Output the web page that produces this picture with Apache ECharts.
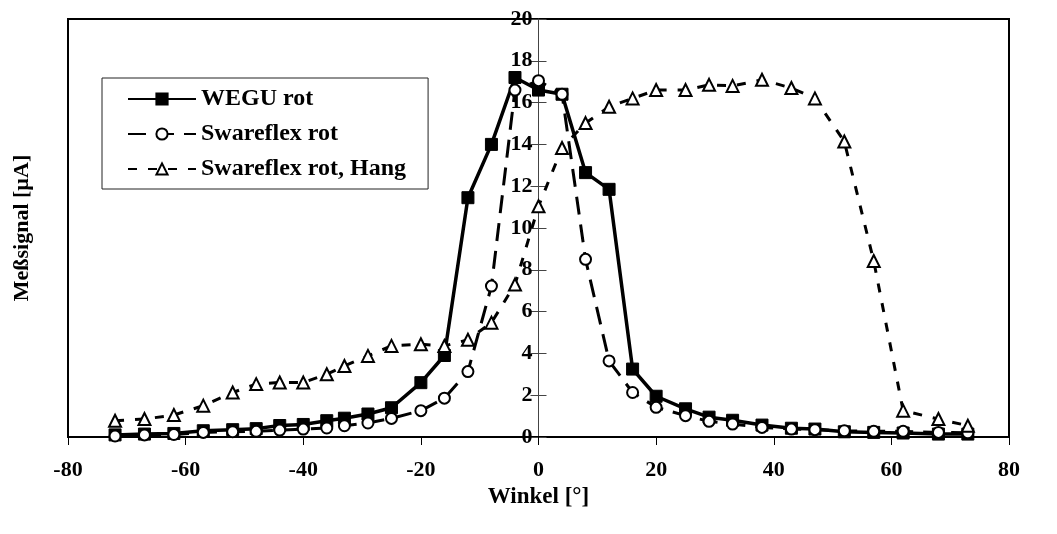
<!DOCTYPE html>
<html>
<head>
<meta charset="utf-8">
<script src="https://cdn.jsdelivr.net/npm/echarts@6/dist/echarts.min.js"></script>
<style>
  html, body { margin: 0; padding: 0; background: #fff; }
  #chart { width: 1057px; height: 534px; }
</style>
</head>
<body>
<div id="chart"></div>
<script>
// Angles [°]
const angles = [-72, -67, -62, -57, -52, -48, -44, -40, -36, -33, -29, -25, -20, -16, -12, -8, -4,
                0, 4, 8, 12, 16, 20, 25, 29, 33, 38, 43, 47, 52, 57, 62, 68, 73];
// Meßsignal [µA]
const weguRot = [0.1, 0.14, 0.17, 0.3, 0.35, 0.4, 0.55, 0.6, 0.78, 0.9, 1.1, 1.4, 2.6, 3.9, 11.45, 14.0, 17.2,
                 16.6, 16.4, 12.65, 11.85, 3.25, 1.95, 1.35, 0.95, 0.8, 0.57, 0.42, 0.38, 0.25, 0.22, 0.19, 0.14, 0.14];
const swareflexRot = [0.05, 0.1, 0.12, 0.22, 0.25, 0.27, 0.33, 0.38, 0.43, 0.54, 0.67, 0.89, 1.26, 1.86, 3.13, 7.22, 16.6,
                      17.05, 16.4, 8.5, 3.64, 2.13, 1.42, 1.02, 0.75, 0.62, 0.46, 0.38, 0.35, 0.3, 0.27, 0.27, 0.22, 0.2];
const swareflexHang = [0.78, 0.86, 1.05, 1.5, 2.13, 2.53, 2.61, 2.61, 3.0, 3.4, 3.88, 4.36, 4.44, 4.36, 4.65, 5.47, 7.3,
                       11.04, 13.83, 15.02, 15.8, 16.2, 16.6, 16.6, 16.85, 16.8, 17.09, 16.7, 16.2, 14.14, 8.42, 1.26, 0.86, 0.54];
const seriesNames = ['WEGU rot', 'Swareflex rot', 'Swareflex rot, Hang'];
const xTitle = 'Winkel [°]';
const yTitle = 'Meßsignal [µA]';

const pairs = arr => angles.map((a, i) => [a, arr[i]]);
const FONT = '"Liberation Serif", "Times New Roman", serif';

const GRID_LEFT = 68, GRID_WIDTH = 941;
const X_MIN = -80, X_MAX = 80;
// shift the y axis from the left grid edge to where x = 0 lies
const Y_AXIS_OFFSET = -GRID_WIDTH * (0 - X_MIN) / (X_MAX - X_MIN);

const chart = echarts.init(document.getElementById('chart'), null, { renderer: 'canvas' });
chart.setOption({
  animation: false,
  backgroundColor: '#fff',
  grid: { left: GRID_LEFT, top: 19, width: GRID_WIDTH, height: 418, show: true,
          borderColor: '#000', borderWidth: 2, backgroundColor: '#fff' },
  legend: {
    orient: 'vertical', left: 102, top: 78,
    padding: [9, 22, 8, 25], itemGap: 11, itemWidth: 68, itemHeight: 14,
    borderColor: '#222', borderWidth: 1, backgroundColor: '#fff',
    textStyle: { fontFamily: FONT, fontWeight: 'bold', fontSize: 24, color: '#000' },
    data: seriesNames
  },
  xAxis: {
    type: 'value', min: X_MIN, max: X_MAX, interval: 20,
    axisLine: { onZero: false, lineStyle: { color: '#000', width: 2 } },
    axisTick: { length: 8, lineStyle: { color: '#000', width: 1 } },
    axisLabel: { fontFamily: FONT, fontWeight: 'bold', fontSize: 22, color: '#000', margin: 22 },
    splitLine: { show: false },
    name: xTitle, nameLocation: 'middle', nameGap: 48,
    nameTextStyle: { fontFamily: FONT, fontWeight: 'bold', fontSize: 23, color: '#000' }
  },
  yAxis: [{
    type: 'value', min: 0, max: 20, interval: 2, position: 'left', offset: Y_AXIS_OFFSET,
    axisLine: { onZero: false, lineStyle: { color: '#444', width: 1 } },
    axisTick: { length: 8, lineStyle: { color: '#444', width: 1 } },
    axisLabel: { fontFamily: FONT, fontWeight: 'bold', fontSize: 22, color: '#000', margin: 6 },
    splitLine: { show: false }
  }, {
    type: 'value', min: 0, max: 20, interval: 2, position: 'left', offset: Y_AXIS_OFFSET,
    axisLine: { show: false, onZero: false },
    axisTick: { inside: true, length: 8, lineStyle: { color: '#444', width: 1 } },
    axisLabel: { show: false },
    splitLine: { show: false }
  }],
  graphic: [{
    type: 'text', x: 22, y: 228, rotation: Math.PI / 2,
    style: { text: yTitle, font: 'bold 22px ' + FONT, fill: '#000',
             textAlign: 'center', textVerticalAlign: 'middle' }
  }],
  series: [{
    name: seriesNames[0], type: 'line', data: pairs(weguRot),
    symbol: 'rect', symbolSize: 12,
    lineStyle: { color: '#000', width: 3.5, type: 'solid' },
    itemStyle: { color: '#000', borderColor: '#000', borderWidth: 1 },
    z: 2
  }, {
    name: seriesNames[1], type: 'line', data: pairs(swareflexRot),
    symbol: 'circle', symbolSize: 11,
    lineStyle: { color: '#000', width: 3, type: [18, 10] },
    itemStyle: { color: '#fff', borderColor: '#000', borderWidth: 2 },
    z: 3
  }, {
    name: seriesNames[2], type: 'line', data: pairs(swareflexHang),
    symbol: 'triangle', symbolSize: 12,
    lineStyle: { color: '#000', width: 3, type: [9, 11] },
    itemStyle: { color: '#fff', borderColor: '#000', borderWidth: 2 },
    z: 4
  }]
});
</script>
</body>
</html>
